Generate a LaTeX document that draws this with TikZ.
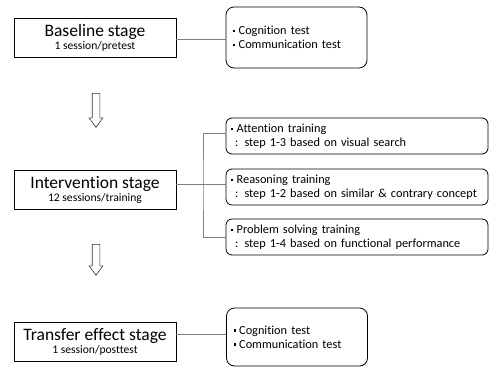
\documentclass[tikz,border=0pt]{standalone}
\usepackage{fontspec}
\setmainfont{Carlito}[Ligatures=NoCommon]
\usetikzlibrary{shapes.arrows}

\definecolor{linegray}{RGB}{128,128,128}
\newcommand{\sqbullet}{\raisebox{2.5pt}{\rule{2.2pt}{2.2pt}}\hspace{3.5pt}}
\newcommand{\titlefont}{\fontsize{17.5}{19}\selectfont}

\tikzset{
    stagebox/.style={draw=black, line width=0.8pt, minimum width=162pt, minimum height=39pt, inner sep=0pt, align=center, font=\fontsize{11.6}{13}\selectfont},
    testbox/.style={draw=black, line width=0.8pt, rounded corners=8pt, minimum width=141pt, text width=127pt, inner sep=0pt, align=left, font=\fontsize{12.3}{14}\selectfont},
    trainbox/.style={draw=black, line width=0.8pt, rounded corners=6pt, minimum width=262pt, minimum height=36pt, text width=252pt, inner sep=0pt, align=left, font=\fontsize{12.3}{14}\selectfont},
    link/.style={draw=linegray, line width=0.8pt},
    downarrow/.style={single arrow, draw=black!80, line width=0.6pt, rotate=-90, anchor=tail, inner xsep=0pt, inner ysep=3.5pt, single arrow head extend=3pt, single arrow tip angle=72}
}

\begin{document}
\begin{tikzpicture}[x=1pt, y=-1pt]
    \useasboundingbox (0,0) rectangle (489,367);

    % stages
    \node[stagebox] (base) at (95,37.5) {{\titlefont Baseline stage}\\1 session/pretest};
    \node[stagebox] (inter) at (95,189.5) {{\titlefont Intervention stage}\\12 sessions/training};
    \node[stagebox] (trans) at (95,341.5) {{\titlefont Transfer effect stage}\\1 session/posttest};

    % tests
    \node[testbox, minimum height=61pt] (basetests) at (296.5,37.5) {\sqbullet Cognition test\\\sqbullet Communication test};
    \node[testbox, minimum height=58pt] (trtests) at (297,337) {\sqbullet Cognition test\\\sqbullet Communication test};

    % trainings
    \node[trainbox] (attn) at (357,136) {\sqbullet Attention training\\\ : step 1-3 based on visual search};
    \node[trainbox] (reason) at (357,187) {\sqbullet Reasoning training\\\ : step 1-2 based on similar \& contrary concept};
    \node[trainbox] (probl) at (357,237) {\sqbullet Problem solving training\\\ : step 1-4 based on functional performance};

    % hollow arrows
    \node[downarrow, minimum height=34pt] (arr1) at (96,93) {};
    \node[downarrow, minimum height=31pt] (arr2) at (96,244) {};

    % connectors
    \draw[link] ([yshift=-1.5pt]base.east) -- ([yshift=-1.5pt]base.east -| basetests.west);
    \draw[link] ([yshift=5.5pt]inter.east) -- ([yshift=5.5pt]inter.east -| reason.west);
    \coordinate (split) at (203,184);
    \draw[link] ([yshift=3pt]attn.west) -| (split) |- (probl.west);
    \draw[link] ([yshift=7pt]trans.east) -- ([yshift=7pt]trans.east -| trtests.west);
\end{tikzpicture}
\end{document}
